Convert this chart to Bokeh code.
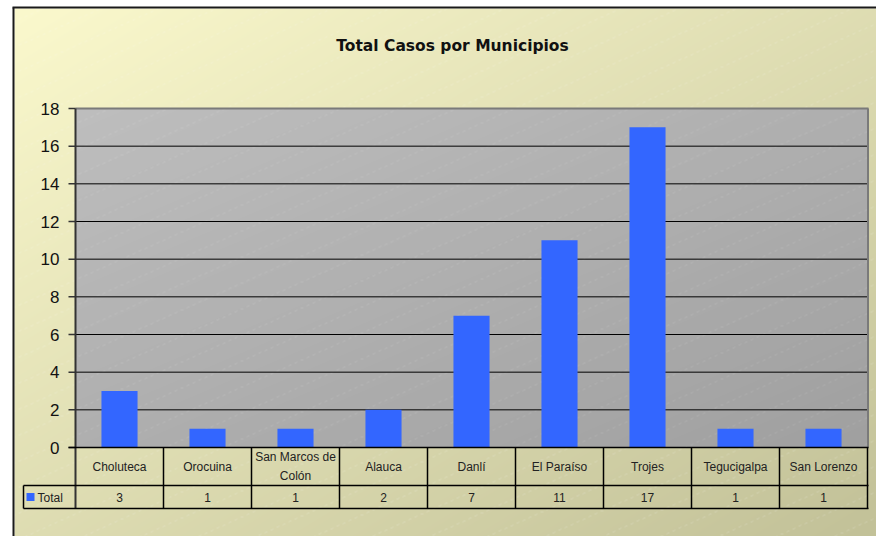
import numpy as np
from bokeh.plotting import figure
from bokeh.models import Range1d
from bokeh.core.properties import value
from bokeh.embed import file_html
from bokeh.resources import INLINE

# ---------------- data ----------------
title = "Total Casos por Municipios"
municipios = ["Choluteca", "Orocuina", "San Marcos de\nColón", "Alauca", "Danlí",
              "El Paraíso", "Trojes", "Tegucigalpa", "San Lorenzo"]
total = [3, 1, 1, 2, 7, 11, 17, 1, 1]
y_ticks = [0, 2, 4, 6, 8, 10, 12, 14, 16, 18]
series_name = "Total"

# ---------------- layout (figure pixels) ----------------
W, H = 876, 536
OX, OY = 0, 0
PL, PR, PT, PB = 75, 867, 108, 447   # plot area
ROW1, ROW2 = 485, 508                # table rows bottoms
LEG_L = 23
YMAX = y_ticks[-1]
ncat = len(municipios)
colw = (PR - PL) / ncat


def Y(py):
    return (OY + H) - py


p = figure(width=W, height=H, x_range=Range1d(OX, OX + W), y_range=Range1d(0, H),
           output_backend="svg", toolbar_location=None, x_axis_type=None, y_axis_type=None,
           min_border=0, outline_line_color=None)
p.grid.visible = False
p.background_fill_color = "white"
p.border_fill_color = "white"

p.extra_x_ranges = {"cat": Range1d((OX - PL) / colw, (OX + W - PL) / colw)}
p.extra_y_ranges = {"val": Range1d((PB - (OY + H)) * YMAX / (PB - PT), (PB - OY) * YMAX / (PB - PT))}


def grad(w, h, c0, c1, stripe_alpha, ox, oy, period=26.0, slope=0.45):
    yy, xx = np.mgrid[0:h, 0:w].astype(float)
    t = (xx / (w - 1) + yy / (h - 1)) / 2
    c0 = np.array(c0, float)
    c1 = np.array(c1, float)
    rgb = c0[None, None, :] * (1 - t[..., None]) + c1[None, None, :] * t[..., None]
    gx = xx + ox
    gy = yy + oy
    d = (gy + slope * gx) % period
    dash = ((gx // 3) % 2 == 0)
    mask = (d < 1.0) & dash
    rgb = np.where(mask[..., None], rgb * (1 - stripe_alpha) + 255 * stripe_alpha, rgb)
    img = np.empty((h, w), dtype=np.uint32)
    view = img.view(np.uint8).reshape(h, w, 4)
    view[..., 0:3] = np.clip(rgb, 0, 255).astype(np.uint8)
    view[..., 3] = 255
    return np.flipud(img)


# outer background
bx0, by0 = 14, 8
bw, bh = OX + W - bx0, OY + H - by0
bg = grad(bw, bh, (251, 249, 205), (194, 193, 152), 0.18, bx0, by0)
p.image_rgba(image=[bg], x=bx0, y=Y(OY + H), dw=bw, dh=bh)

# plot area background
pw, ph = PR - PL, PB - PT
pg = grad(pw, ph, (190, 190, 190), (160, 160, 160), 0.12, PL, PT)
p.image_rgba(image=[pg], x=PL, y=Y(PB), dw=pw, dh=ph)

# outer frame border (left & top)
p.segment(x0=[13, 12], y0=[Y(7), Y(7)], x1=[13, OX + W], y1=[Y(OY + H), Y(7)],
          line_color="#1a1a1a", line_width=2)

# gridlines
grid_vals = [v for v in y_ticks if 0 < v < YMAX]
p.segment(x0=[PL] * len(grid_vals), x1=[PR] * len(grid_vals), y0=grid_vals, y1=grid_vals,
          y_range_name="val", line_color="#000000", line_width=1)

# plot top/right border
p.segment(x0=[PL, PR + 0.5], y0=[Y(PT), Y(PT)], x1=[PR + 1, PR + 0.5], y1=[Y(PT), Y(PB)],
          line_color="#7a7a7a", line_width=2)

# bars
xs = [i + 0.5 for i in range(ncat)]
p.vbar(x=xs, top=total, bottom=0, width=0.41, x_range_name="cat", y_range_name="val",
       fill_color="#3366FF", line_color=None)

# y axis line and ticks
p.segment(x0=[PL], y0=[Y(PT)], x1=[PL], y1=[Y(ROW2)], line_color="#333333", line_width=2)
p.segment(x0=[PL - 7] * len(y_ticks), x1=[PL] * len(y_ticks), y0=y_ticks, y1=y_ticks,
          y_range_name="val", line_color="#333333", line_width=1.5)
p.text(x=[PL - 16] * len(y_ticks), y=y_ticks, text=[str(v) for v in y_ticks],
       y_range_name="val", text_align="right", text_baseline="middle",
       text_font=value("Liberation Sans"), text_font_size="17px", text_color="#111111")

# table lines
p.segment(x0=[PL - 7], y0=[Y(PB)], x1=[PR + 1], y1=[Y(PB)], line_color="#000000", line_width=1.5)
p.segment(x0=[LEG_L, LEG_L], y0=[Y(ROW1), Y(ROW2)], x1=[PR + 1, PR + 1], y1=[Y(ROW1), Y(ROW2)],
          line_color="#000000", line_width=1.5)
p.segment(x0=[LEG_L], y0=[Y(ROW1)], x1=[LEG_L], y1=[Y(ROW2)], line_color="#000000", line_width=1.5)
bounds = list(range(1, ncat + 1))
p.segment(x0=bounds, x1=bounds, y0=[Y(PB)] * len(bounds), y1=[Y(ROW2)] * len(bounds),
          x_range_name="cat", line_color="#000000", line_width=1.5)

# category labels
p.text(x=xs, y=[Y((PB + ROW1) / 2)] * ncat, text=municipios, x_range_name="cat",
       text_align="center", text_baseline="middle", text_line_height=1.35,
       text_font=value("Liberation Sans"), text_font_size="12px", text_color="#222222")
# values
p.text(x=xs, y=[Y((ROW1 + ROW2) / 2)] * ncat, text=[str(v) for v in total], x_range_name="cat",
       text_align="center", text_baseline="middle",
       text_font=value("Liberation Sans"), text_font_size="12px", text_color="#222222")

# legend key
p.scatter(x=[30], y=[Y(496.5)], marker="square", size=8, fill_color="#3366FF", line_color=None)
p.text(x=[37], y=[Y(497)], text=[series_name], text_align="left", text_baseline="middle",
       text_font=value("Liberation Sans"), text_font_size="12px", text_color="#222222")

# title
p.text(x=[452], y=[Y(45)], text=[title], text_align="center", text_baseline="middle",
       text_font=value("DejaVu Sans"), text_font_style="bold", text_font_size="15.5px",
       text_color="#111111")

open("out.html", "w").write(file_html(p, INLINE))
